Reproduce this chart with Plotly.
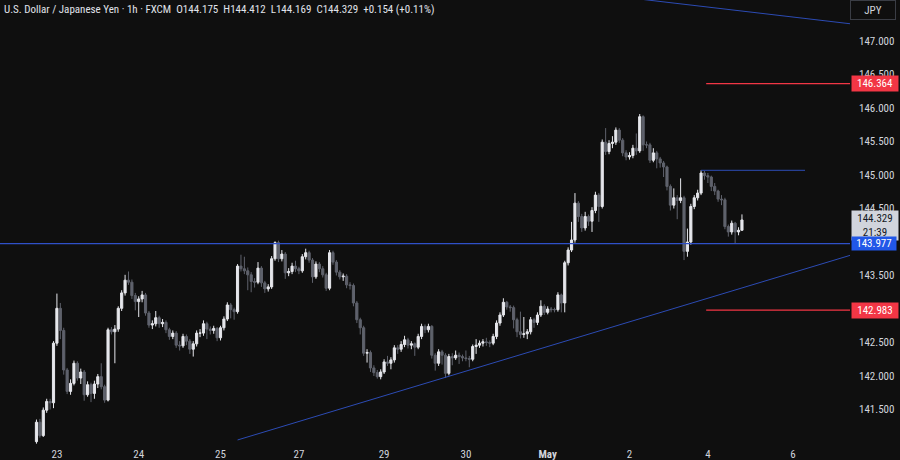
import plotly.graph_objects as go

# hourly bars, index 0 = first candle on screen
first_open = 141.02
closes = [
    141.31, 141.11, 141.49, 141.62, 141.60, 142.49, 143.01, 142.68, 142.09, 141.77,
    141.89, 142.19, 141.97, 142.06, 141.72, 141.87, 141.74, 141.88, 141.99, 141.84,
    141.64, 142.69, 142.66, 142.70, 143.01, 143.24, 143.43, 143.40, 143.20, 143.11,
    143.15, 143.21, 142.94, 142.76, 142.78, 142.87, 142.78, 142.80, 142.69, 142.59,
    142.64, 142.46, 142.45, 142.59, 142.52, 142.40, 142.48, 142.64, 142.64, 142.78,
    142.70, 142.68, 142.71, 142.57, 142.72, 142.85, 143.06, 142.99, 142.96, 143.64,
    143.60, 143.57, 143.51, 143.41, 143.40, 143.61, 143.39, 143.30, 143.33, 143.75,
    143.99, 143.75, 143.82, 143.54, 143.56, 143.64, 143.60, 143.57, 143.78, 143.84,
    143.73, 143.48, 143.67, 143.60, 143.51, 143.31, 143.84, 143.70, 143.55, 143.48,
    143.49, 143.36, 143.35, 143.09, 142.84, 142.72, 142.34, 142.35, 142.12, 142.05,
    141.99, 142.06, 142.21, 142.19, 142.24, 142.42, 142.40, 142.47, 142.54, 142.46,
    142.48, 142.43, 142.59, 142.74, 142.69, 142.74, 142.31, 142.19, 142.36, 142.31,
    142.04, 142.29, 142.27, 142.31, 142.29, 142.27, 142.26, 142.25, 142.44, 142.46,
    142.49, 142.51, 142.50, 142.49, 142.59, 142.79, 142.91, 143.10, 143.03, 143.02,
    142.84, 142.66, 142.62, 142.63, 142.66, 142.84, 142.80, 142.91, 143.04, 142.95,
    143.00, 142.99, 142.99, 143.21, 143.09, 143.69, 143.88, 144.03, 144.58, 144.38,
    144.21, 144.38, 144.31, 144.47, 144.70, 144.53, 145.49, 145.35, 145.47, 145.49,
    145.67, 145.52, 145.33, 145.27, 145.29, 145.40, 145.36, 145.87, 145.45, 145.45,
    145.22, 145.33, 145.24, 145.18, 145.12, 144.83, 144.55, 144.66, 144.62, 144.66,
    143.86, 144.00, 144.53, 144.66, 144.73, 145.03, 144.99, 144.97, 144.83, 144.76,
    144.64, 144.63, 144.23, 144.15, 144.28, 144.15, 144.175, 144.329,
]
highs = [
    141.35, 141.36, 141.53, 141.66, 141.66, 142.52, 143.23, 143.09, 142.72, 142.12,
    141.95, 142.23, 142.22, 142.11, 142.09, 141.92, 141.90, 141.93, 142.03, 142.19,
    141.87, 142.72, 142.73, 142.76, 143.04, 143.28, 143.51, 143.56, 143.44, 143.24,
    143.19, 143.27, 143.24, 142.97, 142.83, 142.97, 142.90, 142.85, 142.83, 142.72,
    142.68, 142.67, 142.52, 142.63, 142.62, 142.55, 142.52, 142.68, 142.70, 142.83,
    142.81, 142.74, 142.75, 142.73, 142.75, 142.89, 143.10, 143.09, 143.02, 143.67,
    143.81, 143.78, 143.62, 143.55, 143.46, 143.70, 143.64, 143.42, 143.37, 143.79,
    144.01, 144.02, 143.88, 143.85, 143.61, 143.69, 143.72, 143.63, 143.82, 143.90,
    143.87, 143.76, 143.71, 143.70, 143.64, 143.54, 143.88, 143.87, 143.73, 143.58,
    143.53, 143.52, 143.40, 143.38, 143.12, 142.87, 142.75, 142.40, 142.38, 142.16,
    142.09, 142.10, 142.25, 142.30, 142.28, 142.46, 142.46, 142.52, 142.60, 142.57,
    142.52, 142.50, 142.63, 142.78, 142.77, 142.78, 142.76, 142.34, 142.40, 142.39,
    142.34, 142.33, 142.34, 142.38, 142.35, 142.32, 142.38, 142.30, 142.47, 142.55,
    142.53, 142.55, 142.57, 142.53, 142.63, 142.83, 142.95, 143.16, 143.12, 143.06,
    143.05, 142.87, 142.96, 142.88, 142.70, 142.88, 142.87, 142.95, 143.13, 143.07,
    143.04, 143.03, 143.02, 143.25, 143.23, 143.72, 143.92, 144.30, 144.73, 144.61,
    144.42, 144.45, 144.41, 144.52, 144.75, 144.73, 145.53, 145.70, 145.52, 145.58,
    145.71, 145.70, 145.55, 145.37, 145.34, 145.45, 145.62, 145.91, 145.89, 145.50,
    145.48, 145.40, 145.36, 145.27, 145.21, 145.14, 144.86, 144.80, 144.70, 144.95,
    144.69, 144.20, 144.57, 144.70, 144.78, 145.07, 145.06, 145.03, 144.99, 144.88,
    144.78, 144.70, 144.66, 144.26, 144.32, 144.30, 144.22, 144.412,
]
lows = [
    140.99, 141.08, 141.09, 141.45, 141.50, 141.52, 142.45, 142.55, 142.02, 141.73,
    141.72, 141.86, 141.93, 141.88, 141.63, 141.69, 141.61, 141.66, 141.82, 141.80,
    141.60, 141.62, 142.62, 142.19, 142.66, 142.97, 143.20, 143.36, 143.15, 142.98,
    142.88, 143.10, 142.90, 142.72, 142.70, 142.74, 142.72, 142.73, 142.64, 142.54,
    142.55, 142.42, 142.38, 142.42, 142.46, 142.33, 142.29, 142.44, 142.58, 142.60,
    142.55, 142.62, 142.63, 142.52, 142.53, 142.68, 142.82, 142.86, 142.84, 142.93,
    143.56, 143.52, 143.28, 143.25, 143.32, 143.37, 143.33, 143.24, 143.26, 143.30,
    143.72, 143.70, 143.71, 143.45, 143.49, 143.52, 143.55, 143.52, 143.54, 143.74,
    143.69, 143.39, 143.45, 143.55, 143.47, 143.27, 143.28, 143.66, 143.50, 143.44,
    143.42, 143.31, 143.29, 143.04, 142.79, 142.62, 142.30, 142.20, 142.06, 142.00,
    141.96, 141.95, 142.03, 142.15, 142.10, 142.20, 142.33, 142.36, 142.43, 142.41,
    142.40, 142.30, 142.40, 142.55, 142.64, 142.65, 142.26, 142.08, 142.15, 142.17,
    141.97, 142.01, 142.16, 142.24, 142.18, 142.22, 142.22, 142.13, 142.22, 142.33,
    142.42, 142.44, 142.45, 142.43, 142.46, 142.55, 142.75, 142.88, 142.99, 142.96,
    142.71, 142.58, 142.56, 142.57, 142.55, 142.62, 142.72, 142.76, 142.88, 142.91,
    142.92, 142.95, 142.95, 142.96, 142.95, 142.95, 143.65, 143.85, 143.99, 144.30,
    144.15, 144.17, 144.24, 144.15, 144.43, 144.30, 144.50, 145.30, 145.31, 145.40,
    145.45, 145.48, 145.28, 145.22, 145.23, 145.25, 145.30, 145.33, 145.36, 145.40,
    145.18, 145.19, 145.10, 145.11, 144.97, 144.77, 144.47, 144.50, 144.34, 144.58,
    143.73, 143.78, 143.96, 144.49, 144.62, 144.70, 144.93, 144.88, 144.76, 144.70,
    144.60, 144.55, 144.19, 144.08, 144.11, 143.98, 144.10, 144.169,
]
opens = [first_open] + closes[:-1]
bars = list(range(len(closes)))

# day labels (bar index where each day starts)
tick_bars = [6, 30, 54, 77, 102, 126, 150, 174, 197, 222]
tick_text = ["23", "24", "25", "27", "29", "30", "<b>May</b>", "2", "4", "6"]
price_ticks = [141.5, 142.0, 142.5, 143.0, 143.5, 144.0, 144.5, 145.0, 145.5, 146.0, 146.5, 147.0]

# drawings
support_level = 143.977
red_levels = [146.364, 142.983]
swing_high = 145.07
trend_up = [(59, 141.045), (240, 143.82)]
trend_down = [(178, 147.62), (240, 147.25)]

BG = "#0f0f0f"
UP = "#e6e7ec"
DOWN = "#5f626c"
BLUE = "#2c4bb4"
RED = "#f23645"
FONT = "Liberation Sans Narrow, Arial Narrow, Roboto Condensed, sans-serif"

fig = go.Figure()
fig.add_trace(go.Candlestick(
    x=bars, open=opens, high=highs, low=lows, close=closes,
    increasing=dict(line=dict(color=UP, width=1), fillcolor=UP),
    decreasing=dict(line=dict(color=DOWN, width=1), fillcolor=DOWN),
    whiskerwidth=0, hoverinfo="skip", showlegend=False,
))

shapes = [
    dict(type="line", x0=-12, x1=240, y0=support_level, y1=support_level,
         line=dict(color="#2f50c8", width=1.3)),
    dict(type="line", x0=195, x1=225.5, y0=swing_high, y1=swing_high,
         line=dict(color=BLUE, width=1)),
    dict(type="line", x0=trend_up[0][0], y0=trend_up[0][1], x1=trend_up[1][0], y1=trend_up[1][1],
         line=dict(color=BLUE, width=1)),
    dict(type="line", x0=trend_down[0][0], y0=trend_down[0][1], x1=trend_down[1][0], y1=trend_down[1][1],
         line=dict(color=BLUE, width=1)),
]
for lvl in red_levels:
    shapes.append(dict(type="line", x0=196.5, x1=240, y0=lvl, y1=lvl,
                       line=dict(color=RED, width=1.2)))

annotations = [
    dict(xref="paper", yref="paper", x=0, y=1, xanchor="left", yanchor="top", xshift=2, yshift=-1,
         showarrow=False, align="left",
         text="U.S. Dollar / Japanese Yen · 1h · FXCM  O144.175  H144.412  L144.169  C144.329  +0.154 (+0.11%)",
         font=dict(color="#e0e3eb", size=11)),
    dict(xref="paper", yref="paper", x=1, y=1, xanchor="left", yanchor="top", xshift=0, yshift=0,
         showarrow=False, text="JPY", width=40, height=14, bordercolor="#3a3d45", borderwidth=1,
         borderpad=2, bgcolor=BG, font=dict(color="#d1d4dc", size=11)),
]
# current price box first, so the level labels sit on top of it
annotations.append(dict(xref="paper", x=1, y=closes[-1], xanchor="left", yanchor="top", xshift=1, yshift=10,
                        showarrow=False, text=f"{closes[-1]:.3f}<br>21:39", bgcolor="#d1d4dc", width=44,
                        borderpad=1, font=dict(color="#131722", size=11)))
for lvl in red_levels:
    annotations.append(dict(xref="paper", x=1, y=lvl, xanchor="left", yanchor="middle", xshift=1,
                            showarrow=False, text=f"{lvl:.3f}", bgcolor=RED, width=44,
                            borderpad=1, font=dict(color="white", size=11)))
annotations.append(dict(xref="paper", x=1, y=support_level, xanchor="left", yanchor="middle", xshift=1,
                        showarrow=False, text=f"{support_level:.3f}", bgcolor="#2157e8", width=44,
                        borderpad=0, font=dict(color="white", size=11)))

fig.update_layout(
    width=900, height=460,
    margin=dict(l=0, r=50, t=0, b=14),
    paper_bgcolor=BG, plot_bgcolor=BG,
    boxgap=0.1,
    font=dict(family=FONT, size=11, color="#d1d4dc"),
    shapes=shapes, annotations=annotations,
    xaxis=dict(range=[-10.7, 238.7], tickvals=tick_bars, ticktext=tick_text,
               showgrid=False, zeroline=False, showline=False, ticks="",
               rangeslider=dict(visible=False), tickfont=dict(size=11, color="#d1d4dc")),
    yaxis=dict(side="right", range=[140.955, 147.612], tickvals=price_ticks, tickformat=".3f",
               showgrid=False, zeroline=False, showline=False, ticks="", ticklabelstandoff=8,
               tickfont=dict(size=11, color="#d1d4dc")),
)

fig.write_html("out.html", config={"displayModeBar": False},
               post_script="document.body.style.margin='0';")
